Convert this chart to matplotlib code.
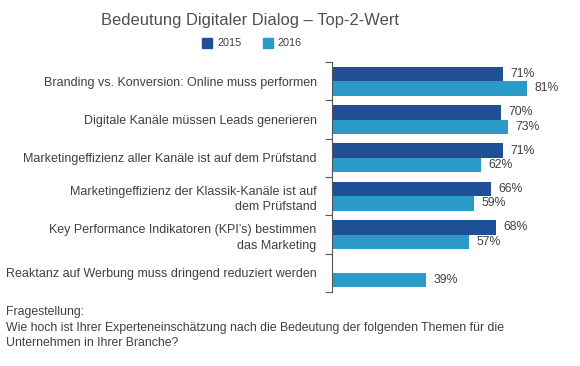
import matplotlib
matplotlib.use("Agg")
import matplotlib.pyplot as plt
import numpy as np

plt.rcParams['font.family'] = ['Liberation Sans', 'DejaVu Sans']

categories = [
    "Branding vs. Konversion: Online muss performen",
    "Digitale Kanäle müssen Leads generieren",
    "Marketingeffizienz aller Kanäle ist auf dem Prüfstand",
    "Marketingeffizienz der Klassik-Kanäle ist auf\ndem Prüfstand",
    "Key Performance Indikatoren (KPI’s) bestimmen\ndas Marketing",
    "Reaktanz auf Werbung muss dringend reduziert werden",
]
values_2015 = [71, 70, 71, 66, 68, None]
values_2016 = [81, 73, 62, 59, 57, 39]
series_names = ["2015", "2016"]
title = "Bedeutung Digitaler Dialog – Top-2-Wert"
footer = ("Fragestellung:\n"
          "Wie hoch ist Ihrer Experteneinschätzung nach die Bedeutung der folgenden Themen für die\n"
          "Unternehmen in Ihrer Branche?")

c15 = "#1f4f95"
c16 = "#2a9ac8"
txt = "#404040"

fig = plt.figure(figsize=(5.8, 3.66), dpi=100)
ax = fig.add_axes([332/580, 74/366, 241/580, 230/366])

y = np.arange(len(categories))
h = 0.38
for i, (a, b) in enumerate(zip(values_2015, values_2016)):
    if a is not None:
        ax.barh(y[i] - 0.19, a, height=h, color=c15)
        ax.text(a + 3, y[i] - 0.19, f"{a}%", va="center", ha="left", fontsize=8.8, color=txt)
    ax.barh(y[i] + 0.19, b, height=h, color=c16)
    ax.text(b + 3, y[i] + 0.19, f"{b}%", va="center", ha="left", fontsize=8.8, color=txt)

ax.set_xlim(0, 100)
ax.set_ylim(len(categories) - 0.5, -0.5)
ax.set_xticks([])
ax.set_yticks(y)
ax.set_yticklabels(categories, fontsize=9, color=txt, ha="right")
for lbl in ax.get_yticklabels():
    lbl.set_linespacing(1.4)
ax.tick_params(axis="y", which="major", length=0, pad=11)
ax.set_yticks(np.arange(len(categories) + 1) - 0.5, minor=True)
ax.tick_params(axis="y", which="minor", length=5, width=0.8, color="#555555", direction="out")
for s in ["top", "right", "bottom"]:
    ax.spines[s].set_visible(False)
ax.spines["left"].set_color("#555555")
ax.spines["left"].set_linewidth(0.8)

fig.text(250/580, 1 - 20/366, title, ha="center", va="center", fontsize=11.9, color="#505050")

# legend
for xs, name, col in [(202, series_names[0], c15), (263, series_names[1], c16)]:
    fig.patches.append(plt.Rectangle((xs/580, 1 - 48/366), 10/580, 10/366,
                                     transform=fig.transFigure, color=col))
    fig.text((xs + 15)/580, 1 - 43/366, name, ha="left", va="center", fontsize=7.8, color=txt)

fig.text(6/580, 1 - 306/366, footer, ha="left", va="top", fontsize=8.8, color=txt,
         linespacing=1.4)

fig.savefig("out.png", dpi=100)
